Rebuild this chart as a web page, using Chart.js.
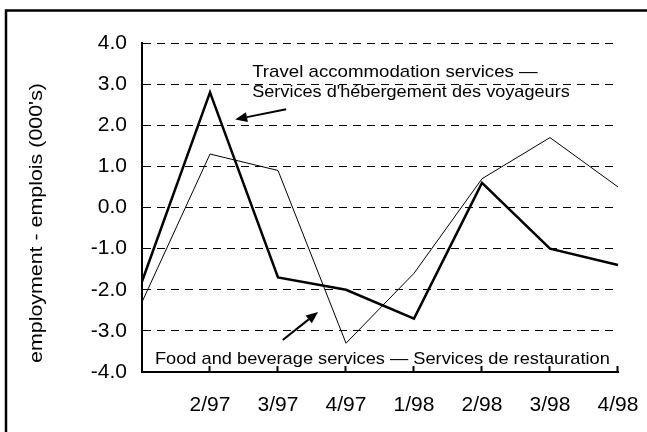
<!DOCTYPE html>
<html>
<head>
<meta charset="utf-8">
<title>Employment change</title>
<script src="https://cdn.jsdelivr.net/npm/chart.js@4/dist/chart.umd.min.js"></script>
<style>
  html, body { margin: 0; padding: 0; background: #fff; }
  canvas { display: block; }
</style>
</head>
<body>
<canvas id="empChart" width="647" height="432"></canvas>
<script>
// quarterly change in employment, thousands
const quarters = ['1/97', '2/97', '3/97', '4/97', '1/98', '2/98', '3/98', '4/98'];
const travelAccommodation = [-1.8, 2.8, -1.7, -2.0, -2.7, 0.6, -1.0, -1.4];
const foodBeverage = [-2.3, 1.3, 0.9, -3.3, -1.6, 0.7, 1.7, 0.5];
const yTickValues = [-4, -3, -2, -1, 0, 1, 2, 3, 4];

const yTitle = "employment - emplois (000's)";
const travelNote = ['Travel accommodation services \u2014', "Services d'h\u00e9bergement des voyageurs"];
const foodNote = 'Food and beverage services \u2014 Services de restauration';

const FONT = '"Liberation Sans", Arial, sans-serif';

// draw a string squeezed/stretched to a given width
function fitText(ctx, str, x, y, w){
  const m = ctx.measureText(str).width;
  ctx.save();
  ctx.translate(x, y);
  ctx.scale(w / m, 1);
  ctx.fillText(str, 0, 0);
  ctx.restore();
}

function arrow(ctx, x1, y1, x2, y2){
  const ang = Math.atan2(y2 - y1, x2 - x1);
  const len = 12, half = 5;
  const bx = x2 - Math.cos(ang) * len, by = y2 - Math.sin(ang) * len;
  ctx.beginPath();
  ctx.moveTo(x1, y1);
  ctx.lineTo(bx, by);
  ctx.lineWidth = 2;
  ctx.stroke();
  ctx.beginPath();
  ctx.moveTo(x2, y2);
  ctx.lineTo(bx + Math.sin(ang) * half, by - Math.cos(ang) * half);
  ctx.lineTo(bx - Math.sin(ang) * half, by + Math.cos(ang) * half);
  ctx.closePath();
  ctx.fill();
}

const decorations = {
  id: 'decorations',
  afterDraw(chart){
    const ctx = chart.ctx;
    const xs = chart.scales.x, ys = chart.scales.y;
    const area = chart.chartArea;
    const px = v => xs.getPixelForValue(v);
    const py = v => ys.getPixelForValue(v);

    ctx.save();
    ctx.strokeStyle = '#000';
    ctx.fillStyle = '#000';

    // frame around the figure (left and top edges)
    ctx.lineWidth = 2.5;
    ctx.beginPath();
    ctx.moveTo(6, chart.height);
    ctx.lineTo(6, 10.5);
    ctx.lineTo(chart.width, 10.5);
    ctx.stroke();

    // inward tick marks on the category axis
    ctx.lineWidth = 2;
    for (let i = 1; i < quarters.length; i++){
      const x = Math.round(xs.getPixelForTick(i)) - 0.5;
      ctx.beginPath();
      ctx.moveTo(x, area.bottom);
      ctx.lineTo(x, area.bottom - 6);
      ctx.stroke();
    }

    // rotated axis title
    ctx.font = '19px ' + FONT;
    ctx.textAlign = 'center';
    ctx.textBaseline = 'middle';
    ctx.save();
    ctx.translate(37, 223);
    ctx.rotate(-Math.PI / 2);
    fitText(ctx, yTitle, 0, 0, 280);
    ctx.restore();

    // series notes
    ctx.font = '17px "Liberation Sans Narrow", ' + FONT;
    ctx.textAlign = 'left';
    ctx.textBaseline = 'alphabetic';
    fitText(ctx, travelNote[0], px(1.62), py(3.17), px(5.82) - px(1.62));
    fitText(ctx, travelNote[1], px(1.62), py(2.68), px(6.29) - px(1.62));
    fitText(ctx, foodNote, px(0.19), py(-3.81), px(6.88) - px(0.19));

    arrow(ctx, px(2.12), py(2.39), px(1.37), py(2.14));
    arrow(ctx, px(2.07), py(-3.22), px(2.59), py(-2.54));

    ctx.restore();
  }
};

new Chart(document.getElementById('empChart'), {
  type: 'line',
  data: {
    labels: quarters,
    datasets: [
      {
        label: 'Travel accommodation services',
        data: travelAccommodation,
        borderColor: '#000',
        borderWidth: 2.5,
        pointRadius: 0,
        tension: 0,
        fill: false
      },
      {
        label: 'Food and beverage services',
        data: foodBeverage,
        borderColor: '#000',
        borderWidth: 1,
        pointRadius: 0,
        tension: 0,
        fill: false
      }
    ]
  },
  options: {
    responsive: false,
    animation: false,
    devicePixelRatio: 1,
    layout: { padding: { top: 43, right: 29, left: 0, bottom: 0 } },
    plugins: { legend: { display: false }, tooltip: { enabled: false } },
    scales: {
      x: {
        type: 'category',
        offset: false,
        grid: { display: false },
        border: { display: true, color: '#000', width: 2 },
        ticks: {
          color: '#000',
          font: { family: FONT, size: 21 },
          padding: 13,
          maxRotation: 0,
          autoSkip: false,
          callback: (v, i) => i === 0 ? '' : quarters[i]
        },
        afterFit: s => { s.height = 60; s.paddingLeft = 0; s.paddingRight = 0; }
      },
      y: {
        min: -4,
        max: 4,
        afterBuildTicks: s => { s.ticks = yTickValues.map(v => ({ value: v })); },
        grid: { color: '#000', lineWidth: 1, drawTicks: false },
        border: { display: true, color: '#000', width: 2, dash: [8, 6] },
        ticks: {
          color: '#000',
          font: { family: FONT, size: 21 },
          padding: 15,
          callback: v => Number(v).toFixed(1)
        },
        afterFit: s => { s.width = 142; }
      }
    }
  },
  plugins: [decorations]
});
</script>
</body>
</html>
